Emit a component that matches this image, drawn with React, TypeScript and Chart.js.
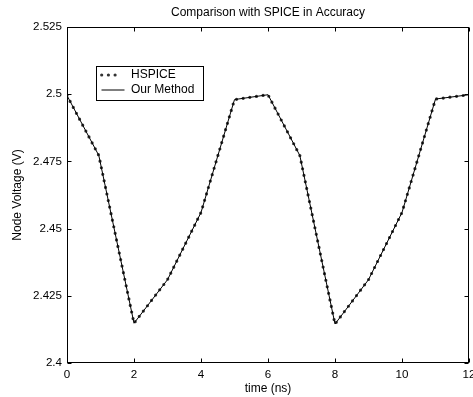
import React, { useEffect, useRef } from "react";
import { Chart, registerables } from "chart.js";

Chart.register(...registerables);

// ---- data ----
const times = [0, 0.95, 2, 3, 4, 5, 6, 6.95, 8, 9, 10, 11, 12];
const hspiceV = [2.4995, 2.4772, 2.4148, 2.431, 2.456, 2.498, 2.4998, 2.4772, 2.4145, 2.431, 2.456, 2.4982, 2.4998];
const ourV = [2.4995, 2.4772, 2.4148, 2.431, 2.456, 2.498, 2.4998, 2.4772, 2.4145, 2.431, 2.456, 2.4982, 2.4998];
const seriesLabels = ["HSPICE", "Our Method"];
const xTicks = [0, 2, 4, 6, 8, 10, 12];
const yTicks = [2.4, 2.425, 2.45, 2.475, 2.5, 2.525];
const titleText = "Comparison with SPICE in Accuracy";
const xTitle = "time (ns)";
const yTitle = "Node Voltage (V)";

const FAMILY = "'Liberation Sans', Arial, Helvetica, sans-serif";

export default function App() {
  const ref = useRef<HTMLCanvasElement>(null);

  useEffect(() => {
    document.body.style.margin = "0";
    const canvas = ref.current!;
    const tickFont = { family: FAMILY, size: 11.6, weight: "normal" as const };
    const labelFont = { family: FAMILY, size: 12, weight: "normal" as const };

    const framePlugin = {
      id: "matlabFrame",
      afterDatasetsDraw(chart: any) {
        const { ctx, chartArea } = chart;
        const l = Math.round(chartArea.left) + 0.5;
        const r = Math.round(chartArea.right) - 0.5;
        const t = Math.round(chartArea.top) + 0.5;
        const b = Math.round(chartArea.bottom) - 0.5;
        ctx.save();
        ctx.strokeStyle = "#000";
        ctx.lineWidth = 1;
        ctx.strokeRect(l, t, r - l, b - t);
        const tl = 4;
        const xs = chart.scales.x;
        const ys = chart.scales.y;
        ctx.beginPath();
        xTicks.forEach((v) => {
          const px = Math.round(xs.getPixelForValue(v)) + 0.5;
          ctx.moveTo(px, b);
          ctx.lineTo(px, b - tl);
          ctx.moveTo(px, t);
          ctx.lineTo(px, t + tl);
        });
        yTicks.forEach((v) => {
          const py = Math.round(ys.getPixelForValue(v)) + 0.5;
          ctx.moveTo(l, py);
          ctx.lineTo(l + tl, py);
          ctx.moveTo(r, py);
          ctx.lineTo(r - tl, py);
        });
        ctx.stroke();
        ctx.restore();
      },
      afterDraw(chart: any) {
        const { ctx, chartArea } = chart;
        const bx = Math.round(chartArea.left) + 29.5;
        const by = Math.round(chartArea.top) + 39.5;
        const bw = 107;
        const bh = 34;
        ctx.save();
        ctx.fillStyle = "#fff";
        ctx.fillRect(bx, by, bw, bh);
        ctx.strokeStyle = "#000";
        ctx.lineWidth = 1;
        ctx.strokeRect(bx, by, bw, bh);
        const ds = chart.data.datasets;
        const rows = [by + 8.5, by + 23.5];
        ds.forEach((d: any, i: number) => {
          const y = rows[i];
          ctx.save();
          ctx.strokeStyle = d.borderColor;
          ctx.lineWidth = d.borderWidth;
          ctx.lineCap = d.borderCapStyle || "butt";
          ctx.setLineDash(d.borderDash || []);
          ctx.beginPath();
          if (d.borderDash && d.borderDash.length) {
            ctx.moveTo(bx + 5.2, y);
            ctx.lineTo(bx + 19.5, y);
          } else {
            ctx.moveTo(bx + 5, y);
            ctx.lineTo(bx + 28, y);
          }
          ctx.stroke();
          ctx.restore();
          ctx.fillStyle = "#000";
          ctx.font = `12px ${FAMILY}`;
          ctx.textAlign = "left";
          ctx.textBaseline = "middle";
          ctx.fillText(d.label, bx + 34.5, y);
        });
        ctx.restore();
      },
    };

    const chart = new Chart(canvas, {
      type: "line",
      data: {
        datasets: [
          {
            label: seriesLabels[0],
            data: times.map((t, i) => ({ x: t, y: hspiceV[i] })),
            borderColor: "#333333",
            borderWidth: 3.2,
            borderDash: [0, 6.7],
            borderCapStyle: "round",
            pointRadius: 0,
            tension: 0,
            fill: false,
            order: 2,
          },
          {
            label: seriesLabels[1],
            data: times.map((t, i) => ({ x: t, y: ourV[i] })),
            borderColor: "#000000",
            borderWidth: 1,
            pointRadius: 0,
            tension: 0,
            fill: false,
            order: 1,
          },
        ],
      },
      options: {
        responsive: false,
        animation: false,
        devicePixelRatio: 1,
        layout: { padding: { left: 0, right: 4, top: 0, bottom: 0 } },
        plugins: {
          legend: { display: false },
          tooltip: { enabled: false },
          title: {
            display: true,
            text: titleText,
            fullSize: false,
            color: "#000",
            font: labelFont,
            padding: { top: 5.8, bottom: 6.8 },
          },
        },
        scales: {
          x: {
            type: "linear",
            min: 0,
            max: 12,
            afterBuildTicks: (s: any) => {
              s.ticks = xTicks.map((v) => ({ value: v }));
            },
            afterFit: (s: any) => {
              s.height = 34;
              s.paddingLeft = 0;
              s.paddingRight = 0;
            },
            grid: { display: true, drawOnChartArea: false, drawTicks: false },
            border: { display: false },
            ticks: {
              padding: 5,
              color: "#000",
              font: tickFont,
              maxRotation: 0,
              autoSkip: false,
              callback: (v: any) => String(v),
            },
            title: {
              display: true,
              text: xTitle,
              color: "#000",
              font: labelFont,
              padding: { top: 0, bottom: 0.8 },
            },
          },
          y: {
            type: "linear",
            min: 2.4,
            max: 2.525,
            afterBuildTicks: (s: any) => {
              s.ticks = yTicks.map((v) => ({ value: v }));
            },
            afterFit: (s: any) => {
              s.width = 67;
              s.paddingTop = 0;
              s.paddingBottom = 0;
            },
            grid: { display: true, drawOnChartArea: false, drawTicks: false },
            border: { display: false },
            ticks: {
              padding: 5,
              color: "#000",
              font: tickFont,
              autoSkip: false,
              callback: (v: any) => String(Number(Number(v).toFixed(3))),
            },
            title: {
              display: true,
              text: yTitle,
              color: "#000",
              font: labelFont,
              padding: { top: 10.2, bottom: 0 },
            },
          },
        },
      },
      plugins: [framePlugin],
    } as any);

    return () => chart.destroy();
  }, []);

  return (
    <div style={{ position: "fixed", left: 0, top: 0, width: 473, height: 397, background: "#fff" }}>
      <canvas ref={ref} width={473} height={397} style={{ display: "block" }} />
    </div>
  );
}
